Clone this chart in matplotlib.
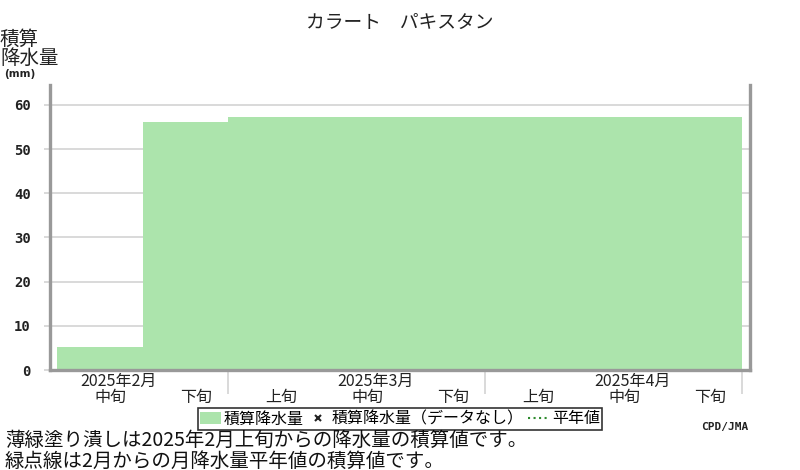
import numpy as np
import matplotlib.pyplot as plt
from matplotlib.patches import Patch
from matplotlib.lines import Line2D

plt.rcParams['font.family'] = ['Noto Sans CJK JP', 'DejaVu Sans']

# 旬ごとの積算降水量 (2025年2月中旬〜4月下旬)
dekad_labels = ['中旬', '下旬', '上旬', '中旬', '下旬', '上旬', '中旬', '下旬']
accum_precip = [5.2, 56.1, 57.2, 57.2, 57.2, 57.2, 57.2, 57.2]
month_labels = ['2025年2月', '2025年3月', '2025年4月']

fill_color = '#ace4ac'
frame_color = '#999999'
grid_color = '#d3d3d3'

fig = plt.figure(figsize=(8, 4.7), dpi=100)
ax = fig.add_axes([50/800, 1 - 370/470, 700/800, 285/470])

# 旬の位置 (2月上旬 = 0)
x_start = np.arange(1, 1 + len(accum_precip))
ax.bar(x_start, accum_precip, width=1.0, align='edge', color=fill_color,
       edgecolor='none', zorder=2)

ax.set_xlim(0.92, 9.09)
ax.set_ylim(0, 64.5)

ax.set_yticks(np.arange(0, 61, 10))
ax.yaxis.grid(True, color=grid_color, linewidth=1.2, zorder=0)
ax.tick_params(axis='y', length=4, color=grid_color, width=1.2, pad=10,
               labelsize=10)
for lab in ax.get_yticklabels():
    lab.set_family('DejaVu Sans Mono')
    lab.set_fontweight('bold')
    lab.set_color('#222222')

# 月の境目
ax.set_xticks([3, 6, 9])
ax.set_xticklabels([])
ax.tick_params(axis='x', length=17, color=grid_color, width=1.2)

for i, lab in enumerate(dekad_labels):
    ax.text(x_start[i] + 0.62, -0.097, lab, transform=ax.get_xaxis_transform(),
            ha='center', va='center', fontsize=11.5, color='#222222')
for m, lab in enumerate(month_labels):
    ax.text(3 * m + 1.72, -0.040, lab, transform=ax.get_xaxis_transform(),
            ha='center', va='center', fontsize=11.5, color='#222222')

for side in ['left', 'bottom', 'right']:
    ax.spines[side].set_color(frame_color)
    ax.spines[side].set_linewidth(2.4)
ax.spines['top'].set_visible(False)

fig.text(0.5, 1 - 22/470, 'カラート　パキスタン', ha='center', va='center',
         fontsize=13.5, color='#222222')
fig.text(0.0, 1 - 39/470, '積算', ha='left', va='center', fontsize=14, color='#222222')
fig.text(0.0, 1 - 58/470, '降水量', ha='left', va='center', fontsize=14, color='#222222')
fig.text(0.005, 1 - 74/470, '(mm)', ha='left', va='center', fontsize=7.5,
         fontweight='bold', family='DejaVu Sans', color='#222222')

handles = [
    Patch(facecolor=fill_color, edgecolor='none'),
    Line2D([], [], marker='x', color='#222222', linestyle='none', markersize=5,
           markeredgewidth=1.5),
    Line2D([], [], color='#2e8b2e', linestyle=':', linewidth=1.5),
]
labels = ['積算降水量', '積算降水量（データなし）', '平年値']
leg = fig.legend(handles, labels, loc='center', bbox_to_anchor=(400/800, 1 - 419/470),
                 ncol=3, fontsize=11.5, frameon=True, fancybox=False,
                 edgecolor='black', borderpad=0.15, handlelength=1.3,
                 handletextpad=0.2, columnspacing=0.25, borderaxespad=0)
leg.get_frame().set_linewidth(1.2)

fig.text(748/800, 1 - 427/470, 'CPD/JMA', ha='right', va='center', fontsize=8,
         fontweight='bold', family='DejaVu Sans Mono', color='#222222')

fig.text(5/800, 1 - 440/470, '薄緑塗り潰しは2025年2月上旬からの降水量の積算値です。',
         ha='left', va='center', fontsize=14, color='#111111')
fig.text(5/800, 1 - 461/470, '緑点線は2月からの月降水量平年値の積算値です。',
         ha='left', va='center', fontsize=14, color='#111111')

fig.savefig('out.png', dpi=100)
